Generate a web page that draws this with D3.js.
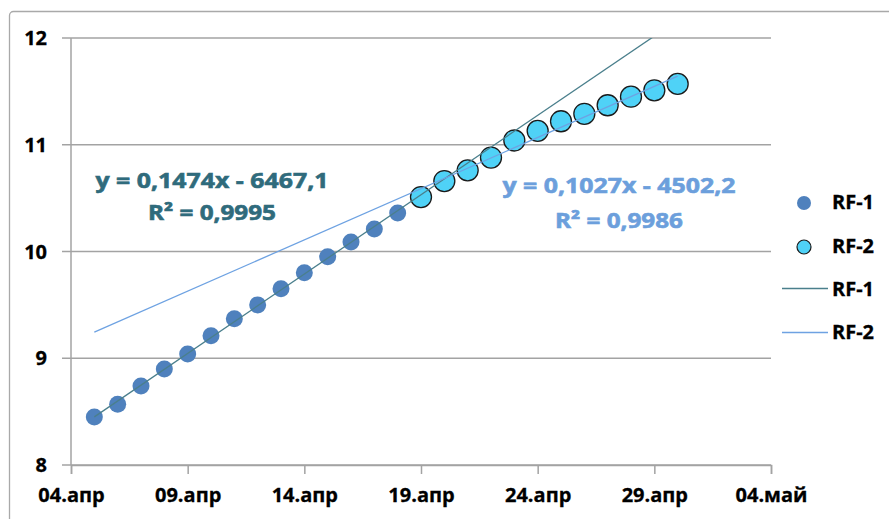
<!DOCTYPE html>
<html>
<head>
<meta charset="utf-8">
<script src="https://cdnjs.cloudflare.com/ajax/libs/d3/7.8.5/d3.min.js"></script>
<style>
  body { margin: 0; background: #fff; }
  text { font-family: "Open Sans", sans-serif; font-weight: bold; }
</style>
</head>
<body>
<div id="chart"></div>
<script>
const rf1Dates = ["05.04", "06.04", "07.04", "08.04", "09.04", "10.04", "11.04",
  "12.04", "13.04", "14.04", "15.04", "16.04", "17.04", "18.04"];
const rf1Values = [8.45, 8.57, 8.74, 8.90, 9.04, 9.21, 9.37, 9.50, 9.65, 9.80, 9.95, 10.09, 10.21, 10.36];

const rf2Dates = ["19.04", "20.04", "21.04", "22.04", "23.04", "24.04",
  "25.04", "26.04", "27.04", "28.04", "29.04", "30.04"];
const rf2Values = [10.51, 10.66, 10.76, 10.88, 11.04, 11.13, 11.22, 11.29, 11.37, 11.45, 11.51, 11.57];

const xTicks = ["04.04", "09.04", "14.04", "19.04", "24.04", "29.04", "04.05"];
const yTicks = [8, 9, 10, 11, 12];

const eq1 = ["y = 0,1474x - 6467,1", "R² = 0,9995"];
const eq2 = ["y = 0,1027x - 4502,2", "R² = 0,9986"];

const margin = { top: 38, right: 118, bottom: 54, left: 71 };
const width = 889 - margin.left - margin.right;
const height = 519 - margin.top - margin.bottom;

const parseDate = d3.timeParse("%d.%m.%Y");
const toDate = s => parseDate(s + ".2020");

const ru = d3.timeFormatLocale({
  dateTime: "%A, %e %B %Y г. %X", date: "%d.%m.%Y", time: "%H:%M:%S",
  periods: ["AM", "PM"],
  days: ["воскресенье", "понедельник", "вторник", "среда", "четверг", "пятница", "суббота"],
  shortDays: ["вс", "пн", "вт", "ср", "чт", "пт", "сб"],
  months: ["января", "февраля", "марта", "апреля", "мая", "июня", "июля", "августа", "сентября", "октября", "ноября", "декабря"],
  shortMonths: ["янв", "фев", "мар", "апр", "май", "июн", "июл", "авг", "сен", "окт", "ноя", "дек"]
});

const rf1 = rf1Dates.map((d, i) => ({ date: toDate(d), value: rf1Values[i] }));
const rf2 = rf2Dates.map((d, i) => ({ date: toDate(d), value: rf2Values[i] }));

const root = d3.select("#chart")
  .append("svg")
  .attr("width", 889)
  .attr("height", 519);

// outer chart frame
root.append("rect")
  .attr("x", 9.5).attr("y", 11.5)
  .attr("width", 900).attr("height", 540)
  .attr("rx", 4)
  .attr("fill", "none")
  .attr("stroke", "#a9a9a9")
  .attr("stroke-width", 1.3);

const svg = root.append("g")
  .attr("transform", `translate(${margin.left}, ${margin.top})`);

const xScale = d3.scaleTime()
  .domain([toDate(xTicks[0]), toDate(xTicks[xTicks.length - 1])])
  .range([0, width]);
const yScale = d3.scaleLinear().domain([8, 12]).range([height, 0]);

// gridlines
svg.append("g")
  .selectAll("line")
  .data(yTicks)
  .join("line")
  .attr("x1", -9).attr("x2", width)
  .attr("y1", d => yScale(d)).attr("y2", d => yScale(d))
  .attr("stroke", "#a3a3a3")
  .attr("stroke-width", 1.5);

svg.append("line")
  .attr("x1", 0).attr("x2", 0)
  .attr("y1", 0).attr("y2", height)
  .attr("stroke", "#a3a3a3")
  .attr("stroke-width", 1.5);

// x axis
const xAxis = svg.append("g")
  .attr("transform", `translate(0, ${height})`)
  .call(d3.axisBottom(xScale)
    .tickValues(xTicks.map(toDate))
    .tickFormat(ru.format("%d.%b"))
    .tickSize(9)
    .tickPadding(14));
xAxis.select(".domain").attr("stroke", "#a3a3a3").attr("stroke-width", 1.5);
xAxis.selectAll(".tick line").attr("stroke", "#a3a3a3").attr("stroke-width", 1.5);
xAxis.selectAll("text")
  .attr("fill", "#000")
  .attr("stroke", "#000")
  .attr("stroke-width", 0.3)
  .style("font-size", "20px")
  .style("font-family", "'Open Sans', sans-serif")
  .style("font-weight", "bold");

// y axis labels
svg.append("g")
  .selectAll("text")
  .data(yTicks)
  .join("text")
  .attr("x", -24)
  .attr("y", d => yScale(d))
  .attr("dy", "0.35em")
  .attr("text-anchor", "end")
  .style("font-size", "20px")
  .attr("fill", "#000")
  .attr("stroke", "#000")
  .attr("stroke-width", 0.3)
  .text(d => d);

const plot = svg.append("g");
plot.append("clipPath").attr("id", "clip")
  .append("rect").attr("width", width).attr("height", height);

// markers
plot.selectAll(".rf1")
  .data(rf1)
  .join("circle")
  .attr("class", "rf1")
  .attr("cx", d => xScale(d.date))
  .attr("cy", d => yScale(d.value))
  .attr("r", 8.5)
  .attr("fill", "#4f81bd");

plot.selectAll(".rf2")
  .data(rf2)
  .join("circle")
  .attr("class", "rf2")
  .attr("cx", d => xScale(d.date))
  .attr("cy", d => yScale(d.value))
  .attr("r", 10.5)
  .attr("fill", "#4fd2f7")
  .attr("stroke", "#1a1a1a")
  .attr("stroke-width", 1.3);

// linear trendlines, least squares over day numbers
function fit(data) {
  const xs = data.map(d => d.date / 864e5);
  const mx = d3.mean(xs);
  const my = d3.mean(data, d => d.value);
  const sxy = d3.sum(data, (d, i) => (xs[i] - mx) * (d.value - my));
  const sxx = d3.sum(xs, x => (x - mx) * (x - mx));
  const k = sxy / sxx;
  return t => my + k * (t / 864e5 - mx);
}

const f1 = fit(rf1);
const f2 = fit(rf2);
const start = rf1[0].date;

const line = d3.line()
  .x(d => xScale(d[0]))
  .y(d => yScale(d[1]));

const end1 = toDate(xTicks[xTicks.length - 1]);
plot.append("path")
  .datum([[start, f1(start)], [end1, f1(end1)]])
  .attr("d", line)
  .attr("clip-path", "url(#clip)")
  .attr("fill", "none")
  .attr("stroke", "#4a7f8c")
  .attr("stroke-width", 1.3);

const end2 = rf2[rf2.length - 1].date;
plot.append("path")
  .datum([[start, f2(start)], [end2, f2(end2)]])
  .attr("d", line)
  .attr("fill", "none")
  .attr("stroke", "#6ea2e2")
  .attr("stroke-width", 1.3);

// trendline equations
function equation(lines, cx, y0, gap, color) {
  const lens = [233, 128];
  svg.append("g")
    .selectAll("text")
    .data(lines)
    .join("text")
    .attr("x", cx - margin.left)
    .attr("y", (d, i) => y0 - margin.top + i * gap)
    .attr("text-anchor", "middle")
    .attr("textLength", (d, i) => lens[i])
    .attr("lengthAdjust", "spacingAndGlyphs")
    .style("font-size", "20.5px")
    .attr("fill", color)
    .attr("stroke", color)
    .attr("stroke-width", 0.6)
    .text(d => d);
}
equation(eq1, 212, 188, 32, "#2f6b7c");
equation(eq2, 619, 193, 35, "#6c9fdc");

// legend
const legend = root.append("g");
legend.append("circle").attr("cx", 804).attr("cy", 203).attr("r", 7).attr("fill", "#4f81bd");
legend.append("circle").attr("cx", 804).attr("cy", 247).attr("r", 7)
  .attr("fill", "#4fd2f7").attr("stroke", "#1a1a1a").attr("stroke-width", 1.2);
legend.append("line").attr("x1", 782).attr("x2", 828).attr("y1", 288.5).attr("y2", 288.5)
  .attr("stroke", "#4a7f8c").attr("stroke-width", 1.3);
legend.append("line").attr("x1", 782).attr("x2", 828).attr("y1", 332.5).attr("y2", 332.5)
  .attr("stroke", "#6ea2e2").attr("stroke-width", 1.3);

const legendLabels = ["RF-1", "RF-2", "RF-1", "RF-2"];
const legendBase = [209, 253, 296, 339];
legend.selectAll("text")
  .data(legendLabels)
  .join("text")
  .attr("x", 832)
  .attr("y", (d, i) => legendBase[i])
  .style("font-size", "20px")
  .attr("fill", "#000")
  .attr("stroke", "#000")
  .attr("stroke-width", 0.3)
  .text(d => d);
</script>
</body>
</html>
